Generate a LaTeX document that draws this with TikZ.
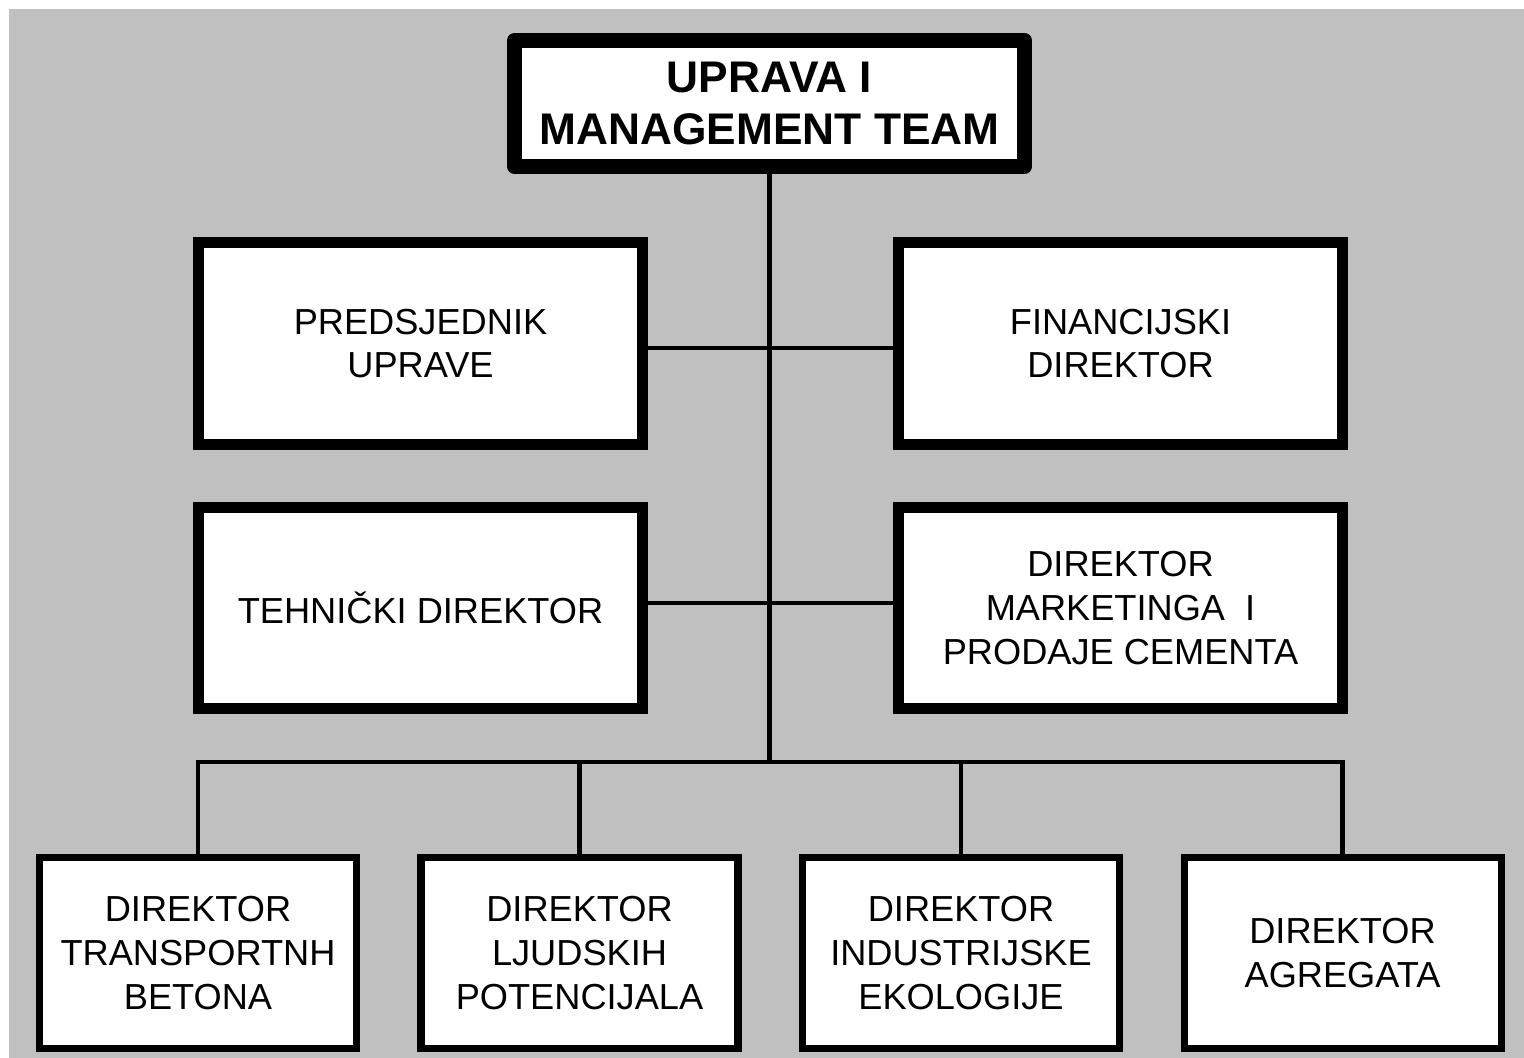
\documentclass[tikz,border=0pt]{standalone}
\usepackage{fontspec}
\setmainfont{Liberation Sans}
\usetikzlibrary{positioning}

\definecolor{pozadina}{RGB}{192,192,192}

\tikzstyle{title} = [rectangle, draw, fill=white, line width=8.5pt, line join=round, align=center, minimum width=10.2cm, minimum height=2.52cm, font=\bfseries\fontsize{25.2}{30}\selectfont]
\tikzstyle{block} = [rectangle, draw, fill=white, line width=6.2pt, align=center, minimum width=8.88cm, minimum height=4.03cm, font=\fontsize{20.6}{24.8}\selectfont]
\tikzstyle{small} = [rectangle, draw, fill=white, line width=4pt, align=center, minimum width=6.34cm, minimum height=3.82cm, font=\fontsize{20.6}{24.8}\selectfont]
\tikzstyle{link} = [draw, line width=2.3pt]

\begin{document}
\begin{tikzpicture}[node distance = 2cm, auto]
\useasboundingbox (0,0) rectangle (30.48,-21.16);
\fill [pozadina] (0.18,-0.18) rectangle (30.48,-21.16);
\node [title] (uprava) at (15.39,-2.07) {UPRAVA I\\MANAGEMENT TEAM};
\node [block] (predsjednik) [below of=uprava, node distance=4.8cm, xshift=-6.98cm] {PREDSJEDNIK\\UPRAVE};
\node [block] (financijski) [right of=predsjednik, node distance=14cm] {FINANCIJSKI\\DIREKTOR};
\node [block] (tehnicki) [below of=predsjednik, node distance=5.29cm] {TEHNIČKI DIREKTOR};
\node [block] (marketing) [right of=tehnicki, node distance=14cm] {DIREKTOR\\MARKETINGA\ \ I\\PRODAJE CEMENTA};
\node [small] (transport) [below of=tehnicki, node distance=6.9cm, xshift=-4.45cm] {DIREKTOR\\TRANSPORTNH\\BETONA};
\node [small] (ljudski) [right of=transport, node distance=7.63cm] {DIREKTOR\\LJUDSKIH\\POTENCIJALA};
\node [small] (ekologija) [right of=ljudski, node distance=7.63cm] {DIREKTOR\\INDUSTRIJSKE\\EKOLOGIJE};
\node [small] (agregati) [right of=ekologija, node distance=7.63cm] {DIREKTOR\\AGREGATA};
\coordinate (bus) at (uprava |- 0,-15.24);
% vertikala i sabirnica
\draw [link] (uprava.south) -- (bus);
\draw [link] (transport.north) |- (bus) -| (agregati.north);
\draw [link] (ljudski.north) -- (ljudski.north |- bus);
\draw [link] (ekologija.north) -- (ekologija.north |- bus);
% bocne veze
\draw [link] ([yshift=-0.09cm]predsjednik.east) -- ([yshift=-0.09cm]financijski.west);
\draw [link] ([yshift=0.1cm]tehnicki.east) -- ([yshift=0.1cm]marketing.west);
\end{tikzpicture}
\end{document}
